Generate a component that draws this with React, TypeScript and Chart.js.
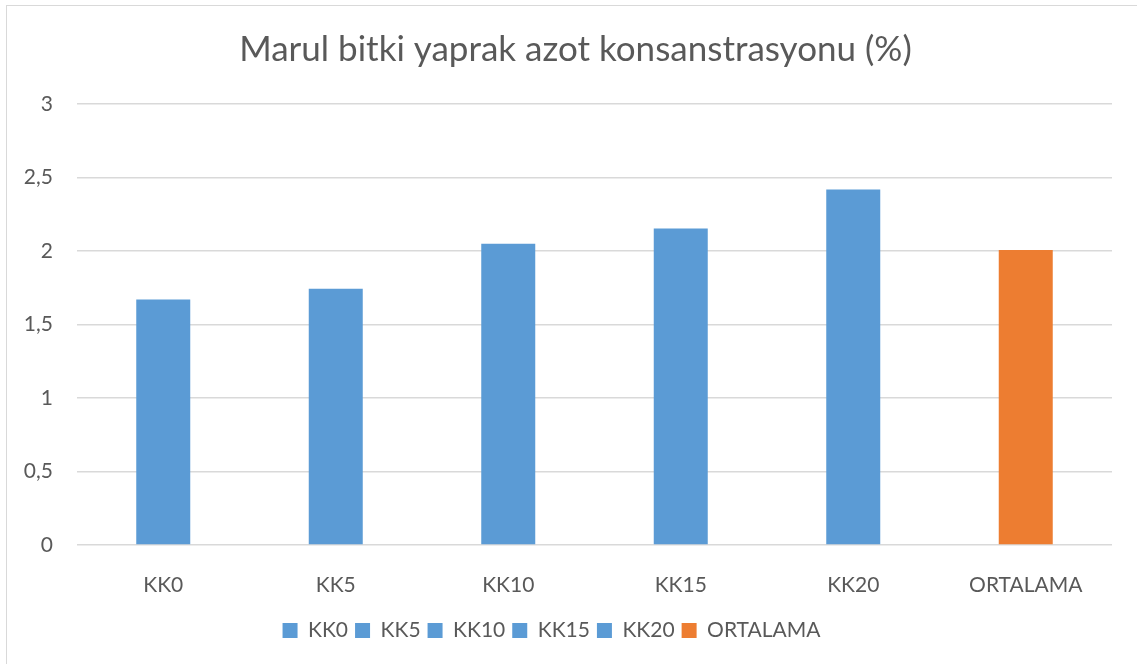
import React, { useEffect, useRef } from 'react';
import { Chart, registerables } from 'chart.js';

Chart.register(...registerables);

const TITLE = 'Marul bitki yaprak azot konsanstrasyonu (%)';
const categories = ['KK0', 'KK5', 'KK10', 'KK15', 'KK20', 'ORTALAMA'];
const values = [1.67, 1.744, 2.05, 2.153, 2.418, 2.007];
const barColors = ['#5B9BD5', '#5B9BD5', '#5B9BD5', '#5B9BD5', '#5B9BD5', '#ED7D31'];
const yMin = 0;
const yMax = 3;
const yStep = 0.5;

const TEXT = '#595959';
const FONT = 'Lato, "Open Sans", sans-serif';

const shiftPlugin = {
  id: 'shiftBlocks',
  afterLayout(chart: any) {
    const tb = chart.titleBlock;
    if (tb) {
      tb.left += 16;
      tb.right += 16;
    }
    const lg = chart.legend;
    if (lg) {
      lg.left -= 8;
      lg.right -= 8;
    }
  },
};

export default function App() {
  const ref = useRef<HTMLCanvasElement | null>(null);

  useEffect(() => {
    if (!ref.current) return;
    const chart = new Chart(ref.current, {
      type: 'bar',
      data: {
        labels: categories,
        datasets: [
          {
            label: 'Azot',
            data: values,
            backgroundColor: barColors,
            borderWidth: 0,
            barPercentage: 0.313,
            categoryPercentage: 1,
          },
        ],
      },
      plugins: [shiftPlugin],
      options: {
        animation: false,
        responsive: true,
        maintainAspectRatio: false,
        layout: { padding: { left: 0, right: 25, top: 0, bottom: 13 } },
        plugins: {
          title: {
            display: true,
            text: TITLE,
            color: TEXT,
            font: { family: FONT, size: 35, weight: 'normal' },
            padding: { top: 23, bottom: 33 },
          },
          legend: {
            display: true,
            position: 'bottom',
            onClick: () => {},
            labels: {
              color: TEXT,
              font: { family: FONT, size: 21 },
              boxWidth: 15,
              boxHeight: 15,
              padding: 7,
              generateLabels: () =>
                categories.map((c, i) => ({
                  text: c,
                  fillStyle: barColors[i],
                  strokeStyle: barColors[i],
                  lineWidth: 0,
                  hidden: false,
                  index: i,
                  datasetIndex: 0,
                  fontColor: TEXT,
                })),
            },
          },
          tooltip: { enabled: false },
        },
        scales: {
          x: {
            afterFit: (s: any) => {
              s.height = 68;
            },
            grid: { display: false },
            border: { display: false },
            ticks: {
              color: TEXT,
              font: { family: FONT, size: 21 },
              padding: 20,
            },
          },
          y: {
            min: yMin,
            max: yMax,
            afterFit: (s: any) => {
              s.width = 70;
            },
            grid: { color: '#d9d9d9', lineWidth: 1.5, drawTicks: false },
            border: { display: false },
            ticks: {
              stepSize: yStep,
              color: TEXT,
              font: { family: FONT, size: 21 },
              padding: 24,
              callback: (v: any) => String(v).replace('.', ','),
            },
          },
        },
      },
    });
    return () => chart.destroy();
  }, []);

  return (
    <div
      style={{
        position: 'fixed',
        left: 0,
        top: 0,
        width: 1137,
        height: 664,
        overflow: 'hidden',
        background: '#ffffff',
      }}
    >
      <div
        style={{
          position: 'absolute',
          left: 6,
          top: 5,
          width: 1200,
          height: 720,
          border: '1px solid #d9d9d9',
          boxSizing: 'border-box',
        }}
      />
      <div style={{ position: 'absolute', left: 7, top: 6, width: 1130, height: 658 }}>
        <canvas ref={ref} />
      </div>
    </div>
  );
}
